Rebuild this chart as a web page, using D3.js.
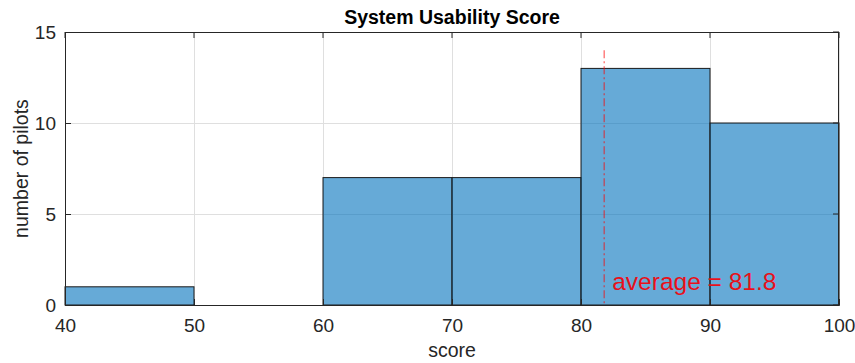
<!DOCTYPE html>
<html>
<head>
<meta charset="utf-8">
<script src="https://cdn.jsdelivr.net/npm/d3@7"></script>
<style>
  body { margin: 0; background: #fff; }
  svg { display: block; font-family: Arial, "Liberation Sans", sans-serif; }
</style>
</head>
<body>
<svg id="chart" width="855" height="363"></svg>
<script>
// Histogram bins (score ranges) and pilot counts
const binEdges = [40, 50, 60, 70, 80, 90, 100];
const counts = [1, 0, 7, 7, 13, 10];
const xTicks = [40, 50, 60, 70, 80, 90, 100];
const yTicks = [0, 5, 10, 15];
const averageScore = 81.8;
const averageLineTop = 14;

const svg = d3.select("#chart");
const margin = { left: 65, right: 16, top: 32, bottom: 58 };
const W = 855, H = 363;
const x = d3.scaleLinear().domain([40, 100]).range([margin.left, W - margin.right]);
const y = d3.scaleLinear().domain([0, 15]).range([H - margin.bottom, margin.top]);

const bins = counts.map((c, i) => ({ x0: binEdges[i], x1: binEdges[i + 1], count: c }));

// grid
const grid = svg.append("g").attr("stroke", "#dfdfdf").attr("stroke-width", 1);
xTicks.forEach(t => grid.append("line")
  .attr("x1", Math.round(x(t)) + 0.5).attr("x2", Math.round(x(t)) + 0.5)
  .attr("y1", y(0)).attr("y2", y(15)));
yTicks.forEach(t => grid.append("line")
  .attr("y1", Math.round(y(t)) + 0.5).attr("y2", Math.round(y(t)) + 0.5)
  .attr("x1", x(40)).attr("x2", x(100)));

// bars
svg.append("g").selectAll("rect").data(bins.filter(b => b.count > 0)).join("rect")
  .attr("x", d => x(d.x0))
  .attr("width", d => x(d.x1) - x(d.x0))
  .attr("y", d => y(d.count))
  .attr("height", d => y(0) - y(d.count))
  .attr("fill", "rgb(0,114,189)")
  .attr("fill-opacity", 0.6)
  .attr("stroke", "#1a1a1a")
  .attr("stroke-width", 1);

// average marker
svg.append("line")
  .attr("x1", x(averageScore)).attr("x2", x(averageScore))
  .attr("y1", y(averageLineTop)).attr("y2", y(0))
  .attr("stroke", "rgb(255,0,0)")
  .attr("stroke-opacity", 0.5)
  .attr("stroke-width", 1.5)
  .attr("stroke-dasharray", "8,3,2,3");

svg.append("text")
  .attr("x", x(averageScore) + 8)
  .attr("y", 290)
  .attr("fill", "#e8101a")
  .attr("font-size", 24.5)
  .text(`average = ${averageScore}`);

// axes
const axisColor = "#262626";
const xAxis = svg.append("g").attr("transform", `translate(0,${y(0)})`)
  .call(d3.axisBottom(x).tickValues(xTicks).tickSize(-6).tickPadding(14).tickFormat(d3.format("d")));
const yAxis = svg.append("g").attr("transform", `translate(${x(40)},0)`)
  .call(d3.axisLeft(y).tickValues(yTicks).tickSize(-6).tickPadding(9).tickFormat(d3.format("d")));
[xAxis, yAxis].forEach(a => {
  a.select(".domain").attr("stroke", axisColor);
  a.selectAll(".tick line").attr("stroke", axisColor);
  a.selectAll(".tick text").attr("fill", axisColor).attr("font-size", 19).attr("font-family", "Arial, 'Liberation Sans', sans-serif");
});

// box top and right with ticks
const box = svg.append("g").attr("stroke", axisColor).attr("fill", "none");
box.append("line").attr("x1", x(40)).attr("x2", x(100)).attr("y1", y(15) + 0.5).attr("y2", y(15) + 0.5);
box.append("line").attr("x1", x(100) - 0.5).attr("x2", x(100) - 0.5).attr("y1", y(15)).attr("y2", y(0));
xTicks.forEach(t => box.append("line").attr("x1", x(t)).attr("x2", x(t)).attr("y1", y(15)).attr("y2", y(15) + 6));
yTicks.forEach(t => box.append("line").attr("x1", x(100)).attr("x2", x(100) - 6).attr("y1", y(t)).attr("y2", y(t)));

// labels
svg.append("text").attr("x", (x(40) + x(100)) / 2).attr("y", 24)
  .attr("text-anchor", "middle").attr("font-weight", "bold").attr("font-size", 19.5).attr("fill", "#000")
  .text("System Usability Score");
svg.append("text").attr("x", (x(40) + x(100)) / 2).attr("y", 357)
  .attr("text-anchor", "middle").attr("font-size", 19.5).attr("fill", axisColor)
  .text("score");
svg.append("text").attr("transform", `translate(28,${(y(0) + y(15)) / 2}) rotate(-90)`)
  .attr("text-anchor", "middle").attr("font-size", 19.5).attr("fill", axisColor)
  .text("number of pilots");
</script>
</body>
</html>
